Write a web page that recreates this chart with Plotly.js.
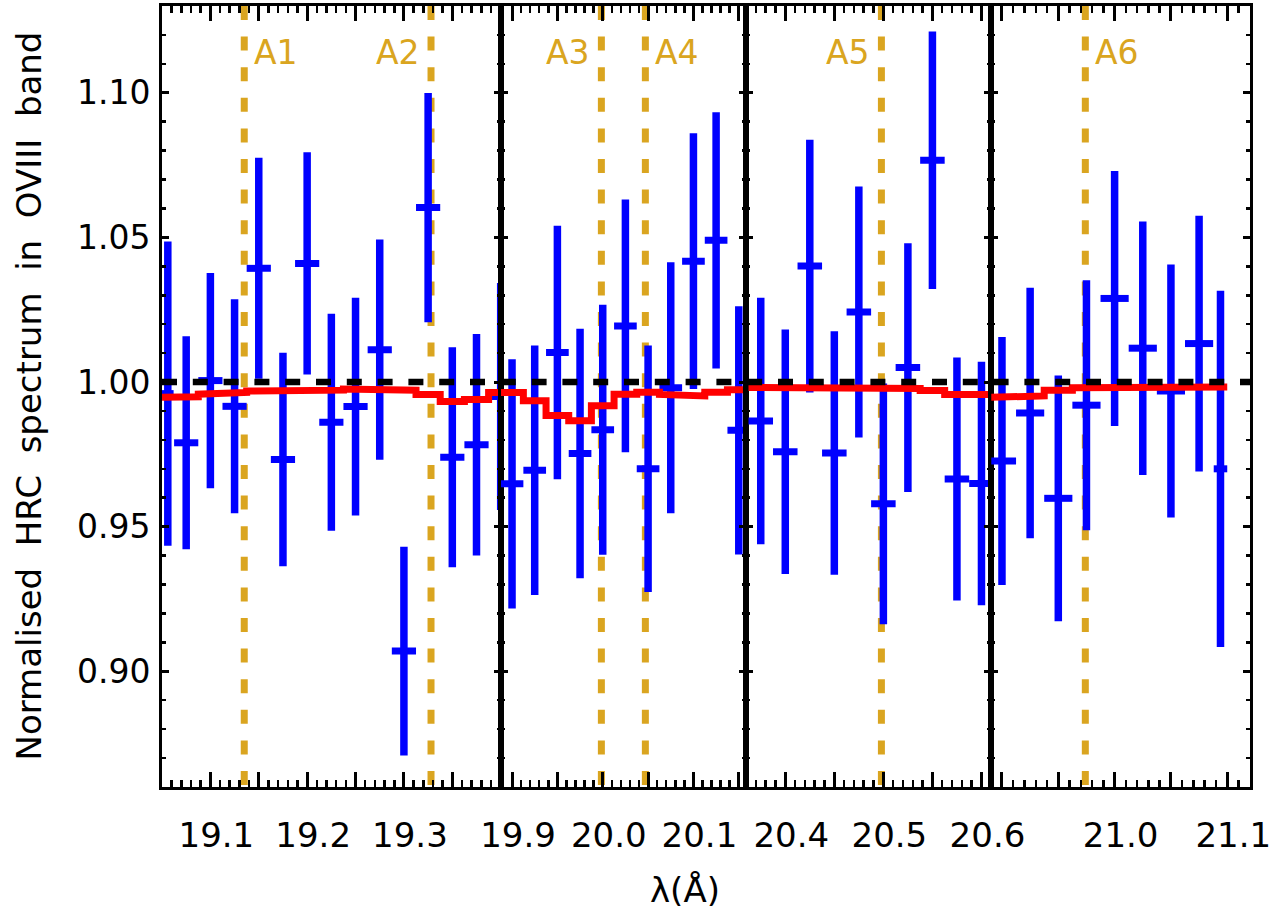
<!DOCTYPE html>
<html>
<head>
<meta charset="utf-8">
<script src="https://cdn.plot.ly/plotly-3.0.1.min.js"></script>
<style>html,body{margin:0;padding:0;background:#fff;}</style>
</head>
<body>
<div id="chart" style="width:1276px;height:912px;"></div>
<script>
// ---------------- DATA ----------------
// Panel 1 (19.05 - 19.40 A)
const wave1 = [19.056, 19.075, 19.100, 19.125, 19.150, 19.175, 19.200, 19.225, 19.250, 19.275, 19.300, 19.325, 19.350, 19.375, 19.400];
const flux1 = [0.996, 0.979, 1.0005, 0.9916, 1.0393, 0.9732, 1.041, 0.9861, 0.9915, 1.0112, 0.907, 1.0603, 0.974, 0.9783, 0.995];
const err1  = [0.0526, 0.0368, 0.0372, 0.0370, 0.0382, 0.0369, 0.0384, 0.0375, 0.0376, 0.0381, 0.0361, 0.0396, 0.0380, 0.0383, 0.0392];
const bin1  = [0.006, 0.0125, 0.0125, 0.0125, 0.0125, 0.0125, 0.0125, 0.0125, 0.0125, 0.0125, 0.0125, 0.0125, 0.0125, 0.0125, 0.0125];
const model1 = [0.9947, 0.9949, 0.9958, 0.9964, 0.9969, 0.9968, 0.9970, 0.9972, 0.9976, 0.9975, 0.9972, 0.9957, 0.9933, 0.9940, 0.9964];

// Panel 2 (19.89 - 20.16 A)
const wave2 = [19.900, 19.925, 19.950, 19.975, 20.000, 20.025, 20.050, 20.075, 20.100, 20.125, 20.150];
const flux2 = [0.9648, 0.9695, 1.0102, 0.9753, 0.9835, 1.0194, 0.970, 0.998, 1.0418, 1.049, 0.9833];
const err2  = [0.0431, 0.0431, 0.0438, 0.0431, 0.0432, 0.0437, 0.0426, 0.0434, 0.0442, 0.0443, 0.0429];
const bin2  = [0.0125, 0.0125, 0.0125, 0.0125, 0.0125, 0.0125, 0.0125, 0.0125, 0.0125, 0.0125, 0.0125];
const model2 = [0.9964, 0.9935, 0.9884, 0.9866, 0.9918, 0.9958, 0.9965, 0.9957, 0.9952, 0.9965, 0.9973];

// Panel 3 (20.36 - 20.61 A)
const wave3 = [20.375, 20.400, 20.425, 20.450, 20.475, 20.500, 20.525, 20.550, 20.575, 20.600];
const flux3 = [0.9865, 0.9759, 1.0401, 0.9755, 1.0242, 0.9579, 1.005, 1.0767, 0.9665, 0.9649];
const err3  = [0.0426, 0.0423, 0.0437, 0.0421, 0.0434, 0.0416, 0.0430, 0.0445, 0.0420, 0.0421];
const bin3  = [0.0125, 0.0125, 0.0125, 0.0125, 0.0125, 0.0125, 0.0125, 0.0125, 0.0125, 0.0125];
const model3 = [0.9981, 0.9981, 0.9981, 0.9980, 0.9982, 0.9980, 0.9978, 0.9971, 0.9957, 0.9957];

// Panel 4 (20.89 - 21.12 A)
const wave4 = [20.900, 20.925, 20.950, 20.975, 21.000, 21.025, 21.050, 21.075, 21.094];
const flux4 = [0.9727, 0.9893, 0.9598, 0.992, 1.0289, 1.0117, 0.9969, 1.0133, 0.970];
const err4  = [0.0429, 0.0433, 0.0425, 0.0432, 0.0441, 0.0438, 0.0437, 0.0442, 0.0616];
const bin4  = [0.0125, 0.0125, 0.0125, 0.0125, 0.0125, 0.0125, 0.0125, 0.0125, 0.006];
const model4 = [0.9947, 0.9952, 0.9972, 0.9980, 0.9980, 0.9983, 0.9984, 0.9983, 0.9983];

// Marked absorption lines
const lineNames = ['A1', 'A2', 'A3', 'A4', 'A5', 'A6'];
const lineWaves = [19.135, 19.328, 19.9985, 20.047, 20.498, 20.974];

// Axis ranges and ticks
const xRange1 = [19.05, 19.40];
const xRange2 = [19.8875, 20.158];
const xRange3 = [20.36, 20.61];
const xRange4 = [20.8905, 21.1202];
const xTicks1 = [19.05, 19.10, 19.15, 19.20, 19.25, 19.30, 19.35, 19.40];
const xLabels1 = ['', '19.1', '', '19.2', '', '19.3', '', ''];
const xTicks2 = [19.90, 19.95, 20.00, 20.05, 20.10, 20.15];
const xLabels2 = ['19.9', '', '20.0', '', '20.1', ''];
const xTicks3 = [20.40, 20.45, 20.50, 20.55, 20.60];
const xLabels3 = ['20.4', '', '20.5', '', '20.6'];
const xTicks4 = [20.90, 20.95, 21.00, 21.05, 21.10];
const xLabels4 = ['', '', '21.0', '', '21.1'];
const yRange = [0.86, 1.13];
const yTicks = [0.90, 0.95, 1.00, 1.05, 1.10];
const yLabels = ['0.90', '0.95', '1.00', '1.05', '1.10'];
const refLevel = 1.00;

const yTitle = 'Normalised\u00a0\u00a0HRC\u00a0\u00a0spectrum\u00a0\u00a0in\u00a0\u00a0OVIII\u00a0\u00a0band';
const xTitle = '\u03bb(\u00c5)';

// ---------------- STYLE / LAYOUT ----------------
const FONT = 'DejaVu Sans, sans-serif';
const BLUE = '#0000ff';
const RED = '#ff0000';
const GOLD = '#daa520';
const domains = [[0, 0.3113], [0.3113, 0.5368], [0.5368, 0.7622], [0.7622, 1]];

// minor tick positions every 0.01 that do not coincide with the 0.05 major ticks
function minorTicks(range) {
  const out = [];
  const n0 = Math.ceil(range[0] * 100 - 1e-6), n1 = Math.floor(range[1] * 100 + 1e-6);
  for (let n = n0; n <= n1; n++) if (n % 5 !== 0) out.push(+(n / 100).toFixed(2));
  return out;
}

const panels = [
  {w: wave1, f: flux1, e: err1, b: bin1, m: model1, r: xRange1, tv: xTicks1, tt: xLabels1},
  {w: wave2, f: flux2, e: err2, b: bin2, m: model2, r: xRange2, tv: xTicks2, tt: xLabels2},
  {w: wave3, f: flux3, e: err3, b: bin3, m: model3, r: xRange3, tv: xTicks3, tt: xLabels3},
  {w: wave4, f: flux4, e: err4, b: bin4, m: model4, r: xRange4, tv: xTicks4, tt: xLabels4}
];

const traces = [];
const layout = {
  width: 1276, height: 912,
  margin: {l: 162, r: 26, t: 6, b: 125},
  paper_bgcolor: '#fff', plot_bgcolor: '#fff',
  showlegend: false,
  font: {family: FONT, color: '#000'},
  shapes: [], annotations: []
};

panels.forEach((p, i) => {
  const k = i === 0 ? '' : String(i + 1);
  const xa = 'x' + k, ya = 'y' + k;
  traces.push({
    type: 'scatter', mode: 'markers', x: p.w, y: p.f, xaxis: xa, yaxis: ya,
    marker: {size: 1, color: BLUE},
    error_y: {type: 'data', array: p.e, symmetric: true, color: BLUE, thickness: 7.5, width: 0},
    error_x: {type: 'data', array: p.b, symmetric: true, color: BLUE, thickness: 7, width: 0},
    cliponaxis: false, hoverinfo: 'skip'
  });
  const mx = [], my = [];
  p.w.forEach((w, j) => { mx.push(w - p.b[j], w + p.b[j]); my.push(p.m[j], p.m[j]); });
  traces.push({
    type: 'scatter', mode: 'lines', x: mx, y: my, xaxis: xa, yaxis: ya,
    line: {color: RED, width: 7}, hoverinfo: 'skip'
  });

  layout['xaxis' + k] = {
    domain: domains[i], range: p.r, anchor: ya,
    tickmode: 'array', tickvals: p.tv, ticktext: p.tt,
    ticks: 'inside', ticklen: 15, tickwidth: 3, tickcolor: '#000',
    showline: true, linewidth: 3, linecolor: '#000', mirror: 'ticks',
    showgrid: false, zeroline: false,
    tickfont: {family: FONT, size: 34, color: '#000'},
    ticklabelstandoff: 16, ticklabelshift: 6,
    minor: {tickmode: 'array', tickvals: minorTicks(p.r), ticks: 'inside', ticklen: 7, tickwidth: 2.5, tickcolor: '#000', showgrid: false}
  };
  const yax = {
    domain: [0, 1], range: yRange, anchor: xa,
    tickmode: 'array', tickvals: yTicks, ticktext: yLabels,
    ticks: 'inside', ticklen: 7, tickwidth: 3, tickcolor: '#000',
    showline: true, linewidth: 3, linecolor: '#000', mirror: 'ticks',
    showgrid: false, zeroline: false,
    tickfont: {family: FONT, size: 33, color: '#000'},
    ticklabelstandoff: 2,
    minor: {tickmode: 'array', tickvals: minorTicks(yRange), ticks: 'inside', ticklen: 4, tickwidth: 2.5, tickcolor: '#000', showgrid: false}
  };
  if (i > 0) { yax.matches = 'y'; yax.showticklabels = false; }
  layout['yaxis' + k] = yax;
});

// reference level line
layout.shapes.push({
  type: 'line', xref: 'paper', x0: 0, x1: 1, yref: 'y', y0: refLevel, y1: refLevel,
  line: {color: '#000', width: 6.5, dash: '15px,15.8px'}, layer: 'above'
});

// absorption line markers
const lineAxes = lineWaves.map(w => {
  for (let i = 0; i < panels.length; i++) {
    if (w >= panels[i].r[0] && w <= panels[i].r[1]) return i === 0 ? '' : String(i + 1);
  }
  return '';
});
const labelSide = ['right', 'left', 'left', 'right', 'left', 'right'];
lineWaves.forEach((w, j) => {
  const k = lineAxes[j];
  layout.shapes.push({
    type: 'line', xref: 'x' + k, x0: w, x1: w, yref: 'paper', y0: 1, y1: 0,
    line: {color: GOLD, width: 7, dash: '14px,16.6px'}, layer: 'below'
  });
  const right = labelSide[j] === 'right';
  layout.annotations.push({
    xref: 'x' + k, x: w, yref: 'paper', y: 0.94, yanchor: 'middle',
    xanchor: right ? 'left' : 'right', xshift: right ? 8 : -9,
    text: lineNames[j], showarrow: false,
    font: {family: FONT, size: 33, color: GOLD}
  });
});

// axis titles
layout.annotations.push({
  xref: 'paper', yref: 'paper', x: (28 - 162) / 1088, y: 0.5,
  xanchor: 'center', yanchor: 'middle', textangle: -90,
  text: yTitle, showarrow: false, font: {family: FONT, size: 34, color: '#000'}
});
layout.annotations.push({
  xref: 'paper', yref: 'paper', x: (685 - 162) / 1088, y: -(890 - 787) / 781,
  xanchor: 'center', yanchor: 'middle',
  text: xTitle, showarrow: false, font: {family: FONT, size: 34, color: '#000'}
});

Plotly.newPlot('chart', traces, layout, {displayModeBar: false, staticPlot: true});
</script>
</body>
</html>
